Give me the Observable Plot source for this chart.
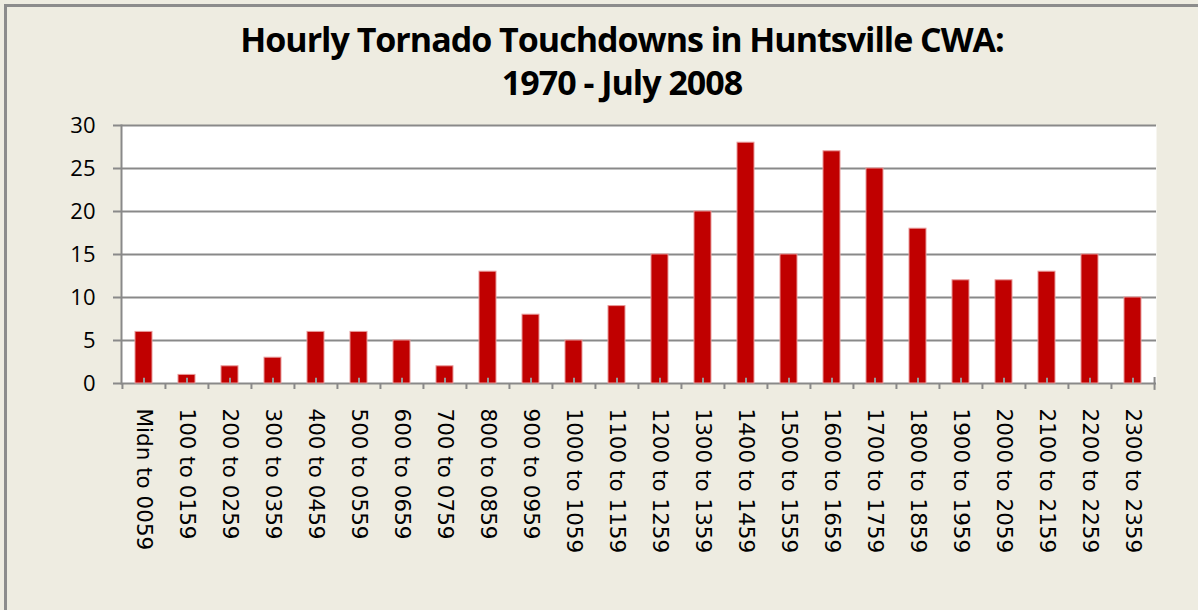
<!DOCTYPE html>
<html>
<head>
<meta charset="utf-8">
<script src="https://cdn.jsdelivr.net/npm/d3@7"></script>
<script src="https://cdn.jsdelivr.net/npm/@observablehq/plot@0.6"></script>
<style>
  html, body { margin: 0; padding: 0; background: #EEECE1; }
  #wrap { position: relative; width: 1198px; height: 610px; overflow: hidden; background: #EEECE1; }
  #frame { position: absolute; left: 4px; top: 4px; width: 1300px; height: 700px;
           border-left: 3px solid #8c8c8c; border-top: 3px solid #8c8c8c; box-sizing: border-box; }
  #title { position: absolute; left: 122px; width: 1000px; top: 18px; text-align: center;
           font-family: "Open Sans", sans-serif; font-weight: bold; letter-spacing: -1px;
           font-size: 34px; line-height: 43px; color: #000; }
  #chart { position: absolute; left: 0; top: 0; }
</style>
</head>
<body>
<div id="wrap">
  <div id="frame"></div>
  <div id="chart"></div>
  <div id="title">Hourly Tornado Touchdowns in Huntsville CWA:<br>1970 - July 2008</div>
</div>
<script>
const categories = ["Midn to 0059","100 to 0159","200 to 0259","300 to 0359","400 to 0459","500 to 0559",
  "600 to 0659","700 to 0759","800 to 0859","900 to 0959","1000 to 1059","1100 to 1159",
  "1200 to 1259","1300 to 1359","1400 to 1459","1500 to 1559","1600 to 1659","1700 to 1759",
  "1800 to 1859","1900 to 1959","2000 to 2059","2100 to 2159","2200 to 2259","2300 to 2359"];
const counts = [6,1,2,3,6,6,5,2,13,8,5,9,15,20,28,15,27,25,18,12,12,13,15,10];
const yTicks = [0,5,10,15,20,25,30];

const data = categories.map((c, i) => ({cat: c, count: counts[i]}));
const W = 1198, ML = 121, MR = 42;
const step = (W - ML - MR) / categories.length;
const grid = "#898989";

const chart = Plot.plot({
  width: W, height: 610,
  marginLeft: ML, marginRight: MR, marginTop: 125, marginBottom: 227,
  style: {background: "transparent", overflow: "visible"},
  x: {domain: categories, paddingInner: 0.6, paddingOuter: 0.3, axis: null, label: null},
  y: {domain: [0, 30], axis: null, label: null},
  marks: [
    Plot.frame({fill: "white", stroke: null}),
    Plot.ruleY(yTicks, {stroke: grid, strokeWidth: 2}),
    Plot.axisY({ticks: yTicks, tickSize: 8, tickPadding: 18, fontSize: 22, label: null,
      fontFamily: "Open Sans, sans-serif", stroke: grid, strokeWidth: 2, fill: "black"}),
    Plot.frame({anchor: "left", stroke: grid, strokeWidth: 2}),
    Plot.barY(data, {x: "cat", y: "count", fill: "#C00000", stroke: "#E89A9A", strokeWidth: 1}),
    Plot.ruleX(data, {x: "cat", y1: 0, y2: 0.6, stroke: "#9a9a9a", strokeWidth: 2}),
    Plot.ruleX(categories, {x: d => d, y1: 0, y2: -0.7, dx: -step / 2, stroke: grid, strokeWidth: 2}),
    Plot.ruleX([categories[categories.length - 1]], {x: d => d, y1: 0.7, y2: -0.8, dx: step / 2, stroke: grid, strokeWidth: 2}),
    Plot.axisX({tickSize: 0, tickRotate: 90, tickPadding: 25, fontSize: 21.5, label: null,
      fontFamily: "DejaVu Sans, sans-serif", fill: "black"})
  ]
});
document.getElementById("chart").appendChild(chart);
</script>
</body>
</html>
